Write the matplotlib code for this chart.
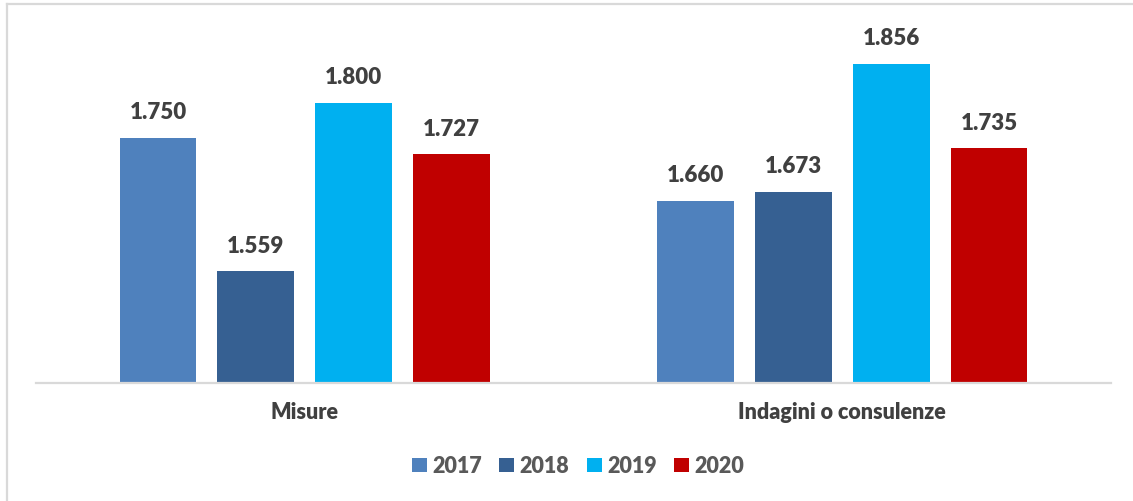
import matplotlib.pyplot as plt
import numpy as np
from matplotlib.patches import Patch
from matplotlib.lines import Line2D

# Data
categories = ["Misure", "Indagini o consulenze"]
years = ["2017", "2018", "2019", "2020"]
values_2017 = [1750, 1660]
values_2018 = [1559, 1673]
values_2019 = [1800, 1856]
values_2020 = [1727, 1735]
series = [values_2017, values_2018, values_2019, values_2020]
colors = ["#4F81BD", "#366092", "#00B0F0", "#C00000"]

plt.rcParams['font.family'] = ['Lato', 'DejaVu Sans']

W, H = 1133, 502
fig = plt.figure(figsize=(W / 100, H / 100), dpi=100)
ax = fig.add_axes([36 / W, (H - 383.7) / H, (1111 - 36) / W, (383.7 - 10) / H])

x = np.arange(len(categories))
pitch = 0.182
width = 0.143
offsets = (np.arange(len(years)) - 1.5) * pitch

for i, (vals, col) in enumerate(zip(series, colors)):
    bars = ax.bar(x + offsets[i], vals, width=width, color=col, zorder=2)
    for b, v in zip(bars, vals):
        label = f"{v:,}".replace(",", ".")
        ax.annotate(label, (b.get_x() + b.get_width() / 2, v),
                    xytext=(0, 11), textcoords="offset points",
                    ha="center", va="bottom", fontsize=16, fontweight="heavy",
                    color="#404040")

ax.set_xlim(-0.5, 1.5)
ax.set_ylim(1400, 1400 + (383.7 - 10) / 0.700)
ax.set_yticks([])
ax.set_xticks(x)
ax.set_xticklabels(categories, fontsize=15.5, fontweight="heavy", color="#404040")
ax.tick_params(axis="x", length=0, pad=13)
for s in ["top", "right", "left"]:
    ax.spines[s].set_visible(False)
ax.spines["bottom"].set_color("#D9D9D9")
ax.spines["bottom"].set_linewidth(1.6)
ax.spines["bottom"].set_zorder(3)

handles = [Patch(facecolor=c, edgecolor="none", label=y) for c, y in zip(colors, years)]
fig.legend(handles=handles, loc="center", bbox_to_anchor=(578 / W, (H - 467) / H),
           ncol=4, frameon=False, prop={"size": 15.5, "weight": "heavy"},
           labelcolor="#595959", handlelength=0.68, handleheight=0.68,
           handletextpad=0.25, columnspacing=0.82)

# thin frame on the left and top edges
fig.add_artist(Line2D([6.5 / W, 6.5 / W], [0, (H - 4.5) / H], color="#D9D9D9", lw=1.6,
                      transform=fig.transFigure))
fig.add_artist(Line2D([6.5 / W, 1], [(H - 4.5) / H, (H - 4.5) / H], color="#D9D9D9", lw=1.6,
                      transform=fig.transFigure))

fig.savefig("out.png", dpi=100)
